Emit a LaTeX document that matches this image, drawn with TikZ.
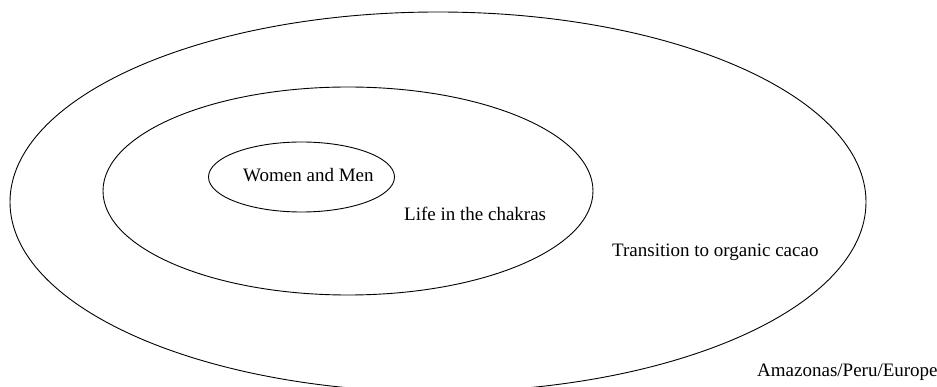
\documentclass[tikz,border=0pt]{standalone}
\usepackage{fontspec}
\setmainfont{Liberation Serif}
\usetikzlibrary{shapes.geometric, positioning}

\begin{document}
\begin{tikzpicture}[
  x=1pt, y=-1pt,
  font=\fontsize{19}{22}\selectfont,
  ring/.style={ellipse, draw, line width=0.9pt, inner sep=0pt},
  lbl/.style={inner sep=0pt, anchor=west}
]
% -------------------------------------------------------------------------
% NESTED CONTEXT RINGS
% -------------------------------------------------------------------------
\path[use as bounding box, clip] (0,0) rectangle (937,387);
\node[ring, minimum width=856pt, minimum height=380pt] (region) at (438,202) {};
\node[ring, minimum width=490pt, minimum height=208pt] (chakras) at (348,191) {};
\node[ring, minimum width=186pt, minimum height=70pt] (people) at (301.5,177) {};

\node[lbl] (people_txt) at (243,175) {Women and Men};
\node[lbl] (chakras_txt) at (404,214) {Life in the chakras};
\node[lbl] (cacao_txt) at (612,252) {Transition to organic cacao};
\node[lbl] (region_txt) at (757,372) {Amazonas/Peru/Europe};
\end{tikzpicture}
\end{document}
